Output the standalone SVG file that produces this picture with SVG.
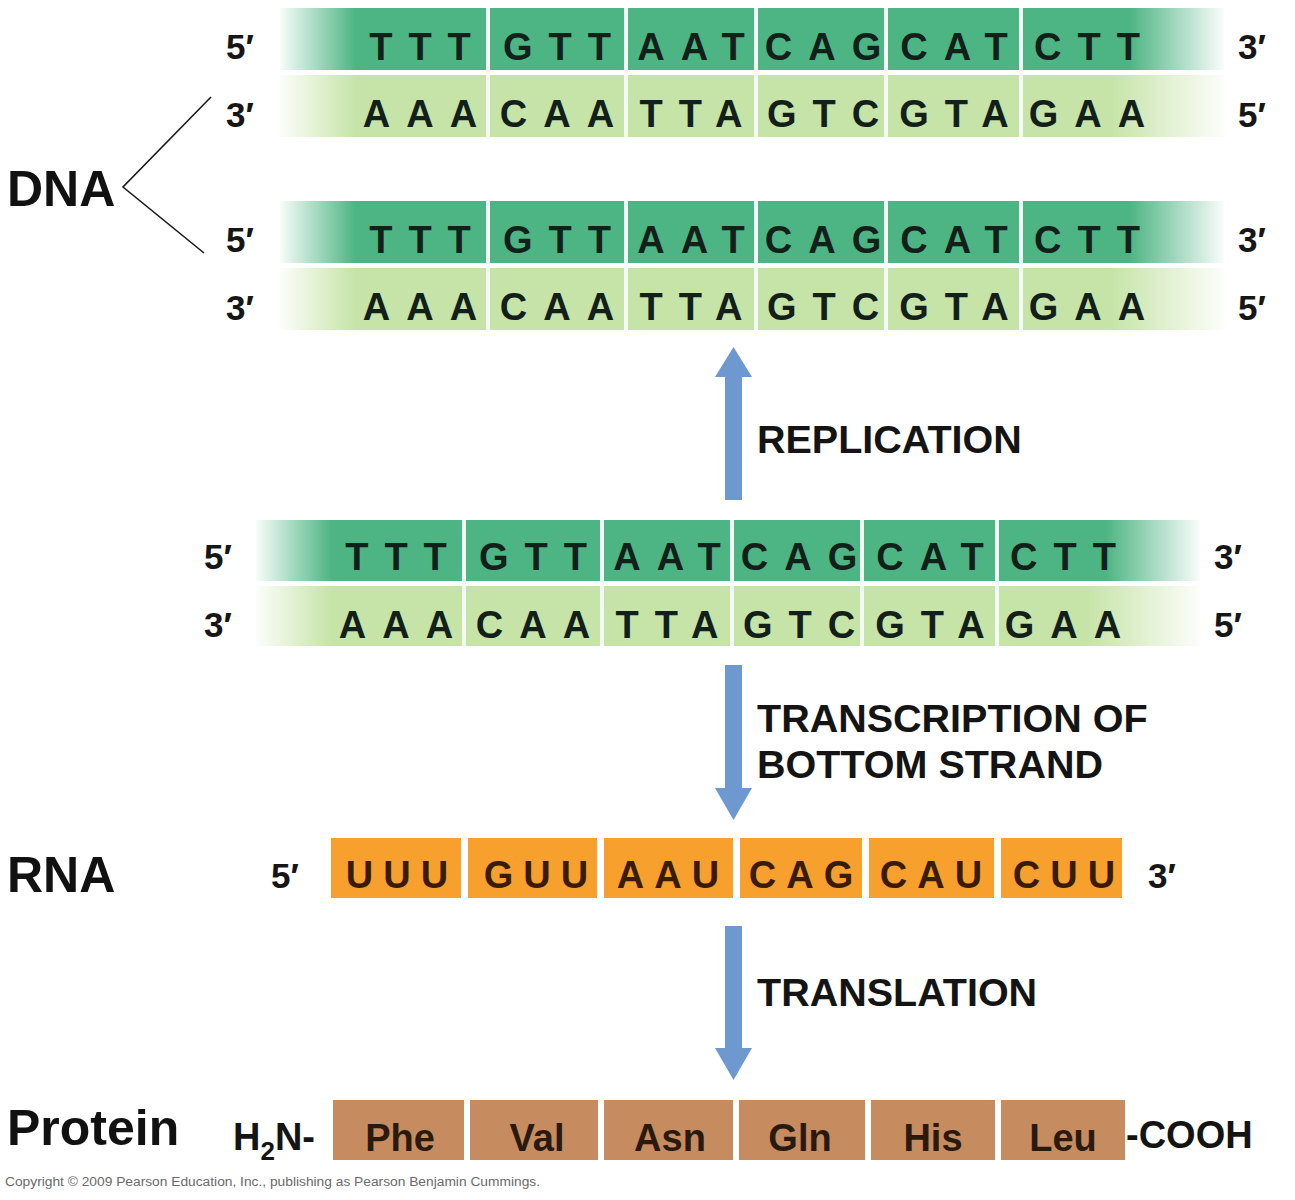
<svg xmlns="http://www.w3.org/2000/svg" width="1295" height="1200" viewBox="0 0 1295 1200">
<defs>
<linearGradient id="gTop" x1="0" x2="1" y1="0" y2="0">
<stop offset="0" stop-color="#4db583" stop-opacity="0.04"/>
<stop offset="0.08" stop-color="#4db583" stop-opacity="1"/>
<stop offset="0.9" stop-color="#4db583" stop-opacity="1"/>
<stop offset="1" stop-color="#4db583" stop-opacity="0.03"/>
</linearGradient>
<linearGradient id="gBot" x1="0" x2="1" y1="0" y2="0">
<stop offset="0" stop-color="#c6e4a8" stop-opacity="0.05"/>
<stop offset="0.08" stop-color="#c6e4a8" stop-opacity="1"/>
<stop offset="0.88" stop-color="#c6e4a8" stop-opacity="1"/>
<stop offset="1" stop-color="#c6e4a8" stop-opacity="0.05"/>
</linearGradient>
</defs>
<style>
text{font-family:"Liberation Sans",Arial,sans-serif;font-weight:bold}
.big{font-size:50px;fill:#111}
.end{font-size:35px;fill:#161616}
.nt{font-size:38px;fill:#13201a;letter-spacing:16px;text-anchor:middle}
.rna{font-size:38px;fill:#3a1c06;letter-spacing:10px;text-anchor:middle}
.aa{font-size:38px;fill:#2a1a0e;text-anchor:middle}
.lab{font-size:39.5px;fill:#141414}
.div{stroke:#f3fbf5;stroke-width:4}
.arrow{fill:#6e98d0}
.rcell{fill:#f7a02e}
.pcell{fill:#c68b5e}
</style>
<rect width="1295" height="1200" fill="#ffffff"/>

<g id="labels">
<text class="big" x="7" y="206">DNA</text>
<text class="big" x="7" y="892">RNA</text>
<text class="big" x="7" y="1145">Protein</text>
<path d="M211,97 L123,187 L204,253" fill="none" stroke="#1a1a1a" stroke-width="1.6"/>
</g>

<g id="dna-strand-1">
<rect x="280" y="8" width="944" height="62" fill="url(#gTop)"/>
<rect x="280" y="75" width="944" height="62" fill="url(#gBot)"/>
<path class="div" d="M488,8V137M626,8V137M756,8V137M886,8V137M1021,8V137"/>
<text class="end" x="226" y="59">5′</text>
<text class="end" x="1238" y="59">3′</text>
<text class="end" x="226" y="127">3′</text>
<text class="end" x="1238" y="127">5′</text>
<text class="nt" y="60"><tspan x="428">TTT</tspan><tspan x="565">GTT</tspan><tspan x="699">AAT</tspan><tspan x="831">CAG</tspan><tspan x="962">CAT</tspan><tspan x="1095">CTT</tspan></text>
<text class="nt" y="127"><tspan x="428">AAA</tspan><tspan x="565">CAA</tspan><tspan x="699">TTA</tspan><tspan x="831">GTC</tspan><tspan x="962">GTA</tspan><tspan x="1095">GAA</tspan></text>
</g>

<g id="dna-strand-2" transform="translate(0,193)">
<rect x="280" y="8" width="944" height="62" fill="url(#gTop)"/>
<rect x="280" y="75" width="944" height="62" fill="url(#gBot)"/>
<path class="div" d="M488,8V137M626,8V137M756,8V137M886,8V137M1021,8V137"/>
<text class="end" x="226" y="59">5′</text>
<text class="end" x="1238" y="59">3′</text>
<text class="end" x="226" y="127">3′</text>
<text class="end" x="1238" y="127">5′</text>
<text class="nt" y="60"><tspan x="428">TTT</tspan><tspan x="565">GTT</tspan><tspan x="699">AAT</tspan><tspan x="831">CAG</tspan><tspan x="962">CAT</tspan><tspan x="1095">CTT</tspan></text>
<text class="nt" y="127"><tspan x="428">AAA</tspan><tspan x="565">CAA</tspan><tspan x="699">TTA</tspan><tspan x="831">GTC</tspan><tspan x="962">GTA</tspan><tspan x="1095">GAA</tspan></text>
</g>

<g id="dna-parent" transform="translate(-24,511)">
<rect x="280" y="9" width="944" height="61" fill="url(#gTop)"/>
<rect x="280" y="75" width="944" height="60" fill="url(#gBot)"/>
<path class="div" d="M488,9V135M626,9V135M756,9V135M886,9V135M1021,9V135"/>
<text class="end" x="228" y="58">5′</text>
<text class="end" x="1238" y="58">3′</text>
<text class="end" x="228" y="126">3′</text>
<text class="end" x="1238" y="126">5′</text>
<text class="nt" y="59"><tspan x="428">TTT</tspan><tspan x="565">GTT</tspan><tspan x="699">AAT</tspan><tspan x="831">CAG</tspan><tspan x="962">CAT</tspan><tspan x="1095">CTT</tspan></text>
<text class="nt" y="127"><tspan x="428">AAA</tspan><tspan x="565">CAA</tspan><tspan x="699">TTA</tspan><tspan x="831">GTC</tspan><tspan x="962">GTA</tspan><tspan x="1095">GAA</tspan></text>
</g>

<g id="rna">
<rect class="rcell" x="331" y="838" width="130" height="60"/>
<rect class="rcell" x="468" y="838" width="129" height="60"/>
<rect class="rcell" x="604" y="838" width="129" height="60"/>
<rect class="rcell" x="740" y="838" width="122" height="60"/>
<rect class="rcell" x="869" y="838" width="125" height="60"/>
<rect class="rcell" x="1001" y="838" width="121" height="60"/>
<text class="end" x="271" y="888">5′</text>
<text class="end" x="1148" y="888">3′</text>
<text class="rna" y="888"><tspan x="402">UUU</tspan><tspan x="541">GUU</tspan><tspan x="673">AAU</tspan><tspan x="806">CAG</tspan><tspan x="936">CAU</tspan><tspan x="1069">CUU</tspan></text>
</g>

<g id="protein">
<rect class="pcell" x="333" y="1100" width="131" height="60"/>
<rect class="pcell" x="470" y="1100" width="128" height="60"/>
<rect class="pcell" x="604" y="1100" width="129" height="60"/>
<rect class="pcell" x="739" y="1100" width="126" height="60"/>
<rect class="pcell" x="871" y="1100" width="124" height="60"/>
<rect class="pcell" x="1001" y="1100" width="124" height="60"/>
<text class="aa" y="1151"><tspan x="400">Phe</tspan><tspan x="537">Val</tspan><tspan x="670">Asn</tspan><tspan x="800">Gln</tspan><tspan x="933">His</tspan><tspan x="1063">Leu</tspan></text>
<text x="233" y="1150" font-size="38" fill="#141414">H<tspan font-size="26" dy="10">2</tspan><tspan dy="-10">N-</tspan></text>
<text x="1126" y="1148" font-size="38" fill="#141414">-COOH</text>
</g>

<g id="connectors">
<g id="replication">
<path class="arrow" d="M725,500 V377 H715 L733.5,347 L752,377 H742 V500 Z"/>
<text class="lab" x="757" y="453">REPLICATION</text>
</g>
<g id="transcription">
<path class="arrow" d="M725,665 V788 H715 L733.5,820 L752,788 H742 V665 Z"/>
<text class="lab" x="757" y="732">TRANSCRIPTION OF</text>
<text class="lab" x="757" y="778">BOTTOM STRAND</text>
</g>
<g id="translation">
<path class="arrow" d="M725,926 V1048 H715 L733.5,1080 L752,1048 H742 V926 Z"/>
<text class="lab" x="757" y="1006">TRANSLATION</text>
</g>
</g>

<text x="5" y="1186" font-size="12" font-weight="normal" fill="#6a6a6a" style="font-weight:normal" textLength="535" lengthAdjust="spacingAndGlyphs">Copyright © 2009 Pearson Education, Inc., publishing as Pearson Benjamin Cummings.</text>
</svg>
